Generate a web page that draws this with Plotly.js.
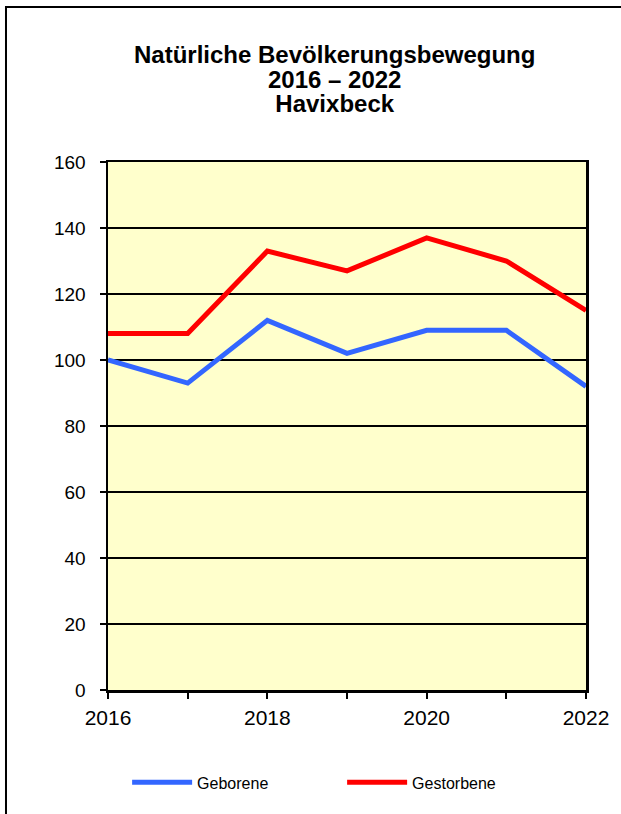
<!DOCTYPE html>
<html>
<head>
<meta charset="utf-8">
<script src="https://cdn.plot.ly/plotly-3.0.1.min.js"></script>
<style>
html,body{margin:0;padding:0;background:#fff;}
#chart{width:621px;height:814px;}
</style>
</head>
<body>
<div id="chart"></div>
<script>
const years = [2016, 2017, 2018, 2019, 2020, 2021, 2022];
const geborene = [100, 93, 112, 102, 109, 109, 92];
const gestorbene = [108, 108, 133, 127, 137, 130, 115];
const xTickText = ['2016', '', '2018', '', '2020', '', '2022'];
const yTicks = [0, 20, 40, 60, 80, 100, 120, 140, 160];
const titleLines = ['Natürliche Bevölkerungsbewegung', '2016 – 2022', 'Havixbeck'];

const font = 'Liberation Sans, Arial, sans-serif';

const traces = [
  {x: years, y: geborene, name: 'Geborene', type: 'scatter', mode: 'lines',
   line: {color: '#3366FF', width: 5}},
  {x: years, y: gestorbene, name: 'Gestorbene', type: 'scatter', mode: 'lines',
   line: {color: '#FF0000', width: 5}}
];

const titleText = titleLines
  .map(s => '<b><span style="font-size:24px">' + s + '</span></b>')
  .join('<br>');

const layout = {
  width: 621, height: 814,
  margin: {l: 108, r: 35, t: 162, b: 124},
  paper_bgcolor: '#ffffff',
  plot_bgcolor: '#FFFFCC',
  font: {family: font, color: '#000', size: 18},
  title: {
    text: titleText,
    font: {family: font, size: 19, color: '#000'},
    x: 0.539, xref: 'container', xanchor: 'center',
    y: 0.9226, yref: 'container', yanchor: 'top'
  },
  xaxis: {
    range: [2016, 2022],
    tickvals: years, ticktext: xTickText,
    ticks: 'outside', ticklen: 6, tickwidth: 2, tickcolor: '#000',
    ticklabelstandoff: 1,
    showline: true, linecolor: '#000', linewidth: 2.5, mirror: true,
    showgrid: false, zeroline: false,
    tickfont: {family: font, size: 21, color: '#000'}
  },
  yaxis: {
    range: [0, 160],
    tickvals: yTicks,
    ticks: 'outside', ticklen: 6, tickwidth: 2, tickcolor: '#000',
    ticklabelstandoff: 10,
    showline: true, linecolor: '#000', linewidth: 2.5, mirror: true,
    showgrid: true, gridcolor: '#000', gridwidth: 2, zeroline: false,
    tickfont: {family: font, size: 19, color: '#000'}
  },
  showlegend: true,
  legend: {
    orientation: 'h', x: 0.04, xanchor: 'left', y: -0.175, yanchor: 'middle',
    font: {family: font, size: 16, color: '#000'},
    itemwidth: 60,
    entrywidth: 140, entrywidthmode: 'pixels',
    bgcolor: 'rgba(0,0,0,0)'
  },
  shapes: [
    {type: 'rect', xref: 'paper', yref: 'paper',
     x0: -0.2134, x1: 1.3, y0: -0.3, y1: 1.2936,
     line: {color: '#000', width: 2}, fillcolor: 'rgba(0,0,0,0)', layer: 'below'}
  ]
};

Plotly.newPlot('chart', traces, layout, {displayModeBar: false, staticPlot: true});
</script>
</body>
</html>
